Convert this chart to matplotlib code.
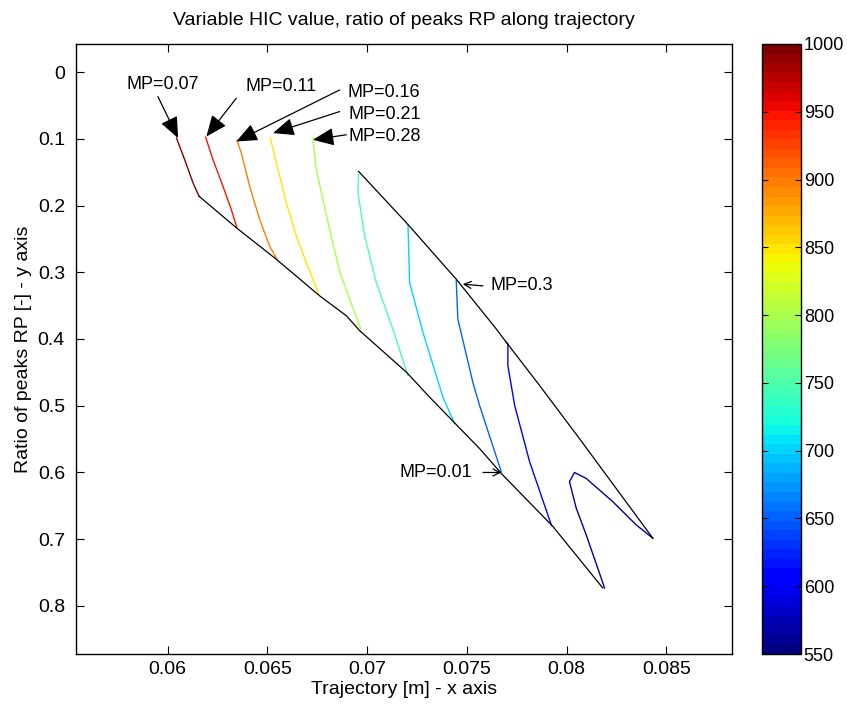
import matplotlib
matplotlib.use("Agg")
import matplotlib.pyplot as plt
from matplotlib import ticker
from matplotlib.colors import Normalize
from matplotlib.cm import ScalarMappable

# HIC contour levels and their traces (trajectory x [m], ratio of peaks RP y)
LEVELS = [1000, 950, 900, 850, 800, 750, 700, 650, 600, 570]
CONTOUR_X = [
    [0.06044, 0.06085, 0.06127, 0.06157],
    [0.06190, 0.06227, 0.06277, 0.06319, 0.06347],
    [0.06347, 0.06369, 0.06411, 0.06461, 0.06511, 0.06548],
    [0.06515, 0.06545, 0.06595, 0.06645, 0.06695, 0.06758],
    [0.06728, 0.06745, 0.06812, 0.06862, 0.06912, 0.06968],
    [0.06957, 0.06954, 0.06988, 0.07046, 0.07129, 0.07205],
    [0.07205, 0.07213, 0.07280, 0.07380, 0.07439],
    [0.07447, 0.07455, 0.07530, 0.07564, 0.07673],
    [0.07698, 0.07706, 0.07706, 0.07740, 0.07815, 0.07924],
    [0.08433, 0.08350, 0.08232, 0.08099, 0.08040, 0.08015, 0.08049,
     0.08099, 0.08191],
]
CONTOUR_Y = [
    [0.0990, 0.1313, 0.1661, 0.1861],
    [0.0975, 0.1313, 0.1712, 0.2060, 0.2333],
    [0.1025, 0.1213, 0.1712, 0.2209, 0.2607, 0.2806],
    [0.0990, 0.1363, 0.1960, 0.2458, 0.2855, 0.3328],
    [0.0990, 0.1463, 0.2358, 0.2985, 0.3403, 0.3851],
    [0.1537, 0.1810, 0.2458, 0.3154, 0.3851, 0.4548],
    [0.2284, 0.3154, 0.3900, 0.4870, 0.5269],
    [0.3130, 0.3701, 0.4646, 0.4996, 0.5990],
    [0.4049, 0.4075, 0.4399, 0.4996, 0.5840, 0.6787],
    [0.6985, 0.6787, 0.6437, 0.6090, 0.6000, 0.6139, 0.6537,
     0.6936, 0.7731],
]

# black boundary of the data region
LOWER_X = [0.06157, 0.06344, 0.06545, 0.06762, 0.06896, 0.06963, 0.07197,
           0.07313, 0.07564, 0.07681, 0.07932, 0.08182]
LOWER_Y = [0.1861, 0.2333, 0.2806, 0.3354, 0.3652, 0.3876, 0.4497,
           0.4870, 0.5642, 0.6040, 0.6810, 0.7731]
UPPER_X = [0.06957, 0.07197, 0.07447, 0.07648, 0.07698, 0.07865, 0.08065,
           0.08433]
UPPER_Y = [0.1488, 0.2258, 0.3104, 0.3851, 0.4049, 0.4697, 0.5493, 0.6985]

# annotations: label, text position, arrow tail, arrow tip
LABELS = ["MP=0.07", "MP=0.11", "MP=0.16", "MP=0.21", "MP=0.28", "MP=0.3", "MP=0.01"]
TEXT_POS = [(0.05975, 0.0194), (0.06570, 0.0219), (0.07086, 0.0313),
            (0.07086, 0.0642), (0.07086, 0.0966), (0.07775, 0.3204),
            (0.07347, 0.6000)]
ARROW_TAIL = [(0.05951, 0.0369), (0.06344, 0.0393), (0.06862, 0.0269),
              (0.06862, 0.0593), (0.06896, 0.0940), (0.07581, 0.3204),
              (0.07581, 0.6000)]
ARROW_TIP = [(0.06052, 0.0990), (0.06194, 0.0966), (0.06344, 0.1040),
             (0.06528, 0.0915), (0.06728, 0.1015), (0.07480, 0.3179),
             (0.07673, 0.6000)]
BIG_HEAD = [True, True, True, True, True, False, False]

HIC_MIN, HIC_MAX = 550, 1000

plt.rcParams["font.family"] = ["Liberation Sans", "DejaVu Sans"]

fig = plt.figure(figsize=(8.47, 7.06), dpi=100)
ax = fig.add_axes([76 / 847, 52 / 706, 656 / 847, 610 / 706])

cmap = plt.get_cmap("jet", 64)
norm = Normalize(HIC_MIN, HIC_MAX)

for level, xs, ys in zip(LEVELS, CONTOUR_X, CONTOUR_Y):
    ax.plot(xs, ys, color=cmap(norm(level)), lw=1.0)

ax.plot(LOWER_X, LOWER_Y, color="k", lw=0.9)
ax.plot(UPPER_X, UPPER_Y, color="k", lw=0.9)

for label, tpos, tail, tip, big in zip(LABELS, TEXT_POS, ARROW_TAIL, ARROW_TIP, BIG_HEAD):
    if big:
        style = "-|>,head_length=1.3,head_width=0.55"
    else:
        style = "->,head_length=0.5,head_width=0.25"
    ax.annotate("", xy=tip, xytext=tail,
                arrowprops=dict(arrowstyle=style, color="k", lw=0.9,
                                shrinkA=0, shrinkB=0))
    ax.text(tpos[0], tpos[1], label, ha="center", va="center", fontsize=13)

ax.set_xlim(0.0554, 0.0883)
ax.set_ylim(0.872, -0.042)
ax.set_xticks([0.06, 0.065, 0.07, 0.075, 0.08, 0.085])
ax.set_yticks([0, 0.1, 0.2, 0.3, 0.4, 0.5, 0.6, 0.7, 0.8])
fmt = ticker.FuncFormatter(lambda v, _: f"{v:g}")
ax.xaxis.set_major_formatter(fmt)
ax.yaxis.set_major_formatter(fmt)
ax.tick_params(direction="in", top=True, right=True, length=6, labelsize=14,
               width=0.8)
ax.tick_params(axis="x", pad=5)
ax.tick_params(axis="y", pad=8)
for s in ax.spines.values():
    s.set_linewidth(1.0)

ax.set_xlabel("Trajectory [m] - x axis", fontsize=14, labelpad=2)
ax.set_ylabel("Ratio of peaks RP [-] - y axis", fontsize=14)
ax.set_title("Variable HIC value, ratio of peaks RP along trajectory",
             fontsize=14, pad=14)

cax = fig.add_axes([762 / 847, 52 / 706, 39 / 847, 610 / 706])
cb = fig.colorbar(ScalarMappable(norm=norm, cmap=cmap), cax=cax)
cb.set_ticks(list(range(HIC_MIN, HIC_MAX + 1, 50)))
cb.ax.tick_params(direction="in", left=True, right=True, length=4,
                  labelsize=13, width=0.8, pad=2)
cb.outline.set_linewidth(1.0)

fig.savefig("out.png", dpi=100)
